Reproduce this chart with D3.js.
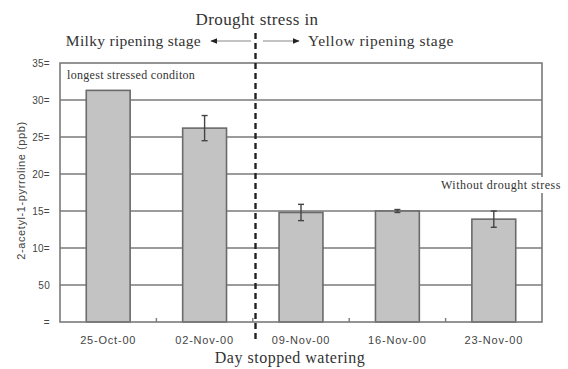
<!DOCTYPE html>
<html>
<head>
<meta charset="utf-8">
<script src="https://cdn.jsdelivr.net/npm/d3@7"></script>
<style>
  body { margin: 0; background: #fff; }
  svg { display: block; }
</style>
</head>
<body>
<div id="chart"></div>
<script>
// values
const categories = ['25-Oct-00', '02-Nov-00', '09-Nov-00', '16-Nov-00', '23-Nov-00'];
const values = [31.3, 26.2, 14.8, 15.0, 13.9];
const errors = [0, 1.7, 1.1, 0.2, 1.1];
const tickValues = [0, 5, 10, 15, 20, 25, 30, 35];
const tickLabels = ['=', '50', '10=', '15=', '20=', '25=', '30=', '35='];

const width = 568, height = 369;
const plot = { left: 60, right: 542, top: 63, bottom: 322 };

const svg = d3.select('#chart').append('svg')
    .attr('width', width)
    .attr('height', height);

const x = d3.scaleBand()
    .domain(categories)
    .range([plot.left, plot.right])
    .paddingInner(0.545)
    .paddingOuter(0.2725);

const y = d3.scaleLinear()
    .domain([0, 35])
    .range([plot.bottom, plot.top]);

const lineColor = '#7a7a7a';

// horizontal grid lines
svg.append('g')
    .selectAll('line')
    .data(tickValues.filter(v => v > 0 && v < 35))
    .enter()
    .append('line')
    .attr('x1', plot.left).attr('x2', plot.right)
    .attr('y1', d => y(d)).attr('y2', d => y(d))
    .attr('stroke', lineColor)
    .attr('stroke-width', 1.6);

// small category ticks along the bottom
const step = x.step();
svg.append('g')
    .selectAll('line')
    .data(d3.range(1, categories.length))
    .enter()
    .append('line')
    .attr('x1', i => plot.left + i * step).attr('x2', i => plot.left + i * step)
    .attr('y1', plot.bottom).attr('y2', plot.bottom - 4)
    .attr('stroke', lineColor)
    .attr('stroke-width', 1.4);

// bars
svg.append('g')
    .selectAll('rect')
    .data(values)
    .enter()
    .append('rect')
    .attr('x', (d, i) => x(categories[i]))
    .attr('y', d => y(d))
    .attr('width', x.bandwidth())
    .attr('height', d => y(0) - y(d))
    .attr('fill', '#c3c3c3')
    .attr('stroke', '#6a6a6a')
    .attr('stroke-width', 1.6);

// error bars
const eb = svg.append('g').attr('stroke', '#444').attr('stroke-width', 1.4);
values.forEach((v, i) => {
    if (!errors[i]) return;
    const cx = x(categories[i]) + x.bandwidth() / 2;
    eb.append('line')
        .attr('x1', cx).attr('x2', cx)
        .attr('y1', y(v + errors[i])).attr('y2', y(v - errors[i]));
    [v + errors[i], v - errors[i]].forEach(e => {
        eb.append('line')
            .attr('x1', cx - 3).attr('x2', cx + 3)
            .attr('y1', y(e)).attr('y2', y(e));
    });
});

// plot frame
svg.append('rect')
    .attr('x', plot.left).attr('y', plot.top)
    .attr('width', plot.right - plot.left)
    .attr('height', plot.bottom - plot.top)
    .attr('fill', 'none')
    .attr('stroke', lineColor)
    .attr('stroke-width', 1.6);

const sans = '"Liberation Sans", Arial, sans-serif';
const serif = '"Liberation Serif", "Times New Roman", serif';

// y tick labels
svg.append('g')
    .selectAll('text')
    .data(tickValues)
    .enter()
    .append('text')
    .attr('x', 50)
    .attr('y', d => y(d))
    .attr('dy', '0.35em')
    .attr('text-anchor', 'end')
    .style('font', `10px ${sans}`)
    .style('letter-spacing', '0.3px')
    .attr('fill', '#444')
    .text((d, i) => tickLabels[i]);

// x tick labels
svg.append('g')
    .selectAll('text')
    .data(categories)
    .enter()
    .append('text')
    .attr('x', d => x(d) + x.bandwidth() / 2)
    .attr('y', 340)
    .attr('dy', '0.35em')
    .attr('text-anchor', 'middle')
    .style('font', `11px ${sans}`)
    .style('letter-spacing', '0.8px')
    .attr('fill', '#444')
    .text(d => d);

// axis titles
svg.append('text')
    .attr('transform', `translate(21,${(118 + 263) / 2}) rotate(-90)`)
    .attr('text-anchor', 'middle')
    .attr('dy', '0.35em')
    .style('font', `11px ${sans}`)
    .style('letter-spacing', '0.6px')
    .attr('fill', '#444')
    .text('2-acetyl-1-pyrroline (ppb)');

svg.append('text')
    .attr('x', 290).attr('y', 363)
    .attr('text-anchor', 'middle')
    .style('font', `16px ${serif}`)
    .style('letter-spacing', '0.5px')
    .attr('fill', '#333')
    .text('Day stopped watering');

// annotations inside the plot
svg.append('text')
    .attr('x', 67).attr('y', 79)
    .style('font', `12px ${serif}`)
    .style('letter-spacing', '0.3px')
    .attr('fill', '#333')
    .text('longest stressed conditon');

const noStress = svg.append('g');
noStress.append('rect')
    .attr('x', 438).attr('y', 177)
    .attr('width', 130).attr('height', 16)
    .attr('fill', '#fff');
noStress.append('text')
    .attr('x', 441).attr('y', 189)
    .style('font', `12px ${serif}`)
    .style('letter-spacing', '0.5px')
    .attr('fill', '#333')
    .text('Without drought stress');

// dashed separator between the ripening stages
const sepX = 255.5;
svg.append('line')
    .attr('x1', sepX).attr('x2', sepX)
    .attr('y1', 33).attr('y2', 343)
    .attr('stroke', '#222')
    .attr('stroke-width', 2.4)
    .attr('stroke-dasharray', '6,4');

// header text and arrows
svg.append('text')
    .attr('x', 257).attr('y', 25)
    .attr('text-anchor', 'middle')
    .style('font', `17px ${serif}`)
    .style('letter-spacing', '0.4px')
    .attr('fill', '#333')
    .text('Drought stress in');

svg.append('text')
    .attr('x', 201).attr('y', 46)
    .attr('text-anchor', 'end')
    .style('font', `15.5px ${serif}`)
    .style('letter-spacing', '0.3px')
    .attr('fill', '#333')
    .text('Milky ripening stage');

svg.append('text')
    .attr('x', 308).attr('y', 46)
    .style('font', `15.5px ${serif}`)
    .style('letter-spacing', '0.5px')
    .attr('fill', '#333')
    .text('Yellow ripening stage');

const defs = svg.append('defs');
defs.append('marker')
    .attr('id', 'head')
    .attr('viewBox', '0 0 10 10')
    .attr('refX', 9).attr('refY', 5)
    .attr('markerWidth', 7).attr('markerHeight', 7)
    .attr('markerUnits', 'userSpaceOnUse')
    .attr('orient', 'auto')
    .append('path')
    .attr('d', 'M0,1 L10,5 L0,9 Z')
    .attr('fill', '#222');

svg.append('line')
    .attr('x1', 251).attr('x2', 211)
    .attr('y1', 41).attr('y2', 41)
    .attr('stroke', '#888').attr('stroke-width', 1.2)
    .attr('marker-end', 'url(#head)');
svg.append('line')
    .attr('x1', 263).attr('x2', 299)
    .attr('y1', 41).attr('y2', 41)
    .attr('stroke', '#888').attr('stroke-width', 1.2)
    .attr('marker-end', 'url(#head)');
</script>
</body>
</html>
